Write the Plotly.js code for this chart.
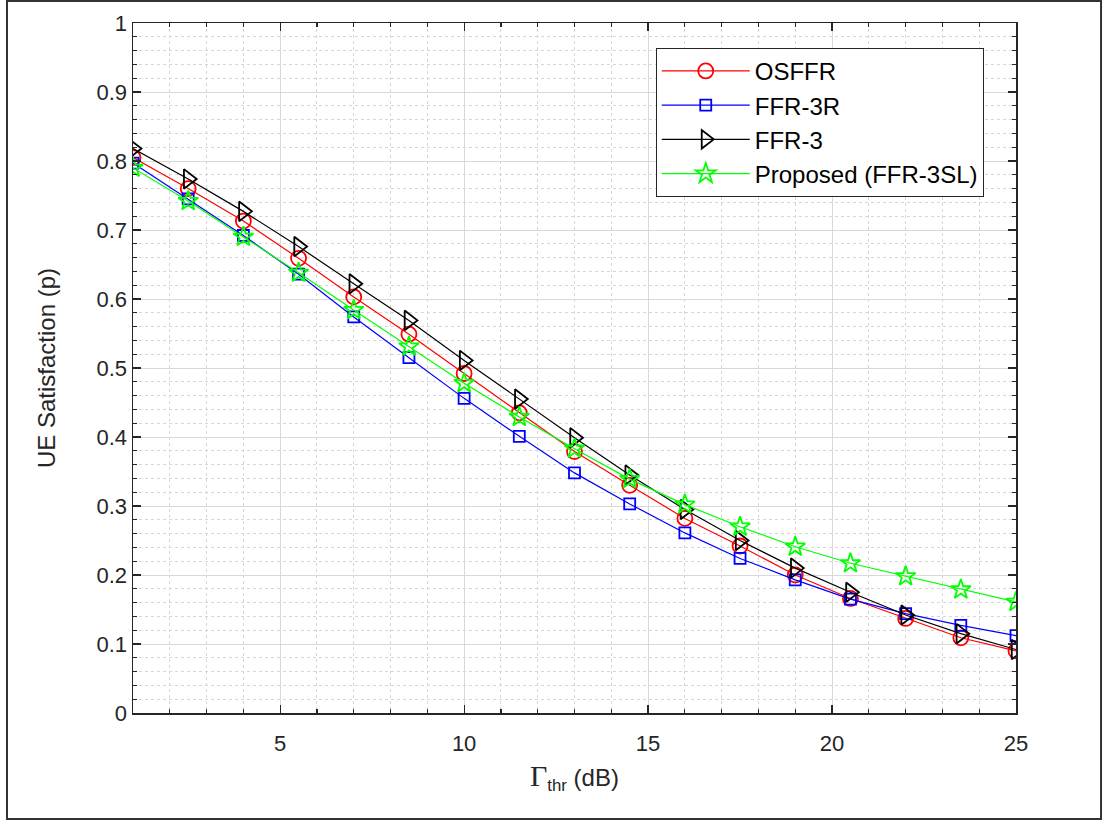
<!DOCTYPE html>
<html>
<head>
<meta charset="utf-8">
<script src="https://cdn.plot.ly/plotly-3.0.1.min.js"></script>
<style>
  html, body { margin: 0; padding: 0; background: #ffffff; }
  #chart { width: 1107px; height: 823px; }
</style>
</head>
<body>
<div id="chart"></div>
<script>
// Gamma threshold (dB)
const gammaThr = [1, 2.5, 4, 5.5, 7, 8.5, 10, 11.5, 13, 14.5, 16, 17.5, 19, 20.5, 22, 23.5, 25];

const osffr    = [0.805, 0.760, 0.713, 0.659, 0.603, 0.549, 0.492, 0.435, 0.379, 0.330, 0.282, 0.242, 0.200, 0.166, 0.137, 0.109, 0.090];
const ffr3r    = [0.797, 0.745, 0.692, 0.636, 0.574, 0.515, 0.456, 0.401, 0.348, 0.303, 0.261, 0.224, 0.193, 0.165, 0.144, 0.127, 0.112];
const ffr3     = [0.818, 0.774, 0.727, 0.676, 0.622, 0.569, 0.511, 0.455, 0.399, 0.345, 0.295, 0.250, 0.210, 0.175, 0.142, 0.115, 0.092];
const proposed = [0.790, 0.742, 0.690, 0.638, 0.584, 0.531, 0.478, 0.429, 0.383, 0.339, 0.302, 0.270, 0.241, 0.217, 0.198, 0.179, 0.161];

const seriesNames = ['OSFFR', 'FFR-3R', 'FFR-3', 'Proposed (FFR-3SL)'];

const xTickVals = [5, 10, 15, 20, 25];
const xTickText = ['5', '10', '15', '20', '25'];
const yTickVals = [0, 0.1, 0.2, 0.3, 0.4, 0.5, 0.6, 0.7, 0.8, 0.9, 1];
const yTickText = ['0', '0.1', '0.2', '0.3', '0.4', '0.5', '0.6', '0.7', '0.8', '0.9', '1'];

function mk(y, name, color, symbol, size, group) {
  return {
    x: gammaThr, y: y, name: name, type: 'scatter', mode: 'lines+markers',
    legendgroup: group,
    line: { color: color, width: 1.2 },
    marker: { symbol: symbol, size: size, color: color, line: { color: color, width: 1.8 } }
  };
}

const traces = [
  mk(osffr, seriesNames[0], '#ff0000', 'circle-open', 15, 'a'),
  mk(ffr3r, seriesNames[1], '#0000ff', 'square-open', 11, 'b'),
  mk(ffr3, seriesNames[2], '#000000', 'triangle-right-open', 17, 'c'),
  mk(proposed, seriesNames[3], '#00ff00', 'star-open', 15, 'd')
];

const axisCommon = {
  showline: true, linecolor: '#262626', linewidth: 1.5, mirror: 'ticks',
  ticks: 'inside', ticklen: 8, tickwidth: 1.2, tickcolor: '#262626',
  showgrid: true, gridcolor: '#d9d9d9', gridwidth: 1,
  zeroline: false,
  tickfont: { family: 'Liberation Sans, Arial, sans-serif', size: 22, color: '#262626' }
};

const layout = {
  width: 1107, height: 823,
  paper_bgcolor: '#ffffff', plot_bgcolor: '#ffffff',
  margin: { l: 133, r: 91, t: 23, b: 110 },
  showlegend: true,
  xaxis: Object.assign({}, axisCommon, {
    range: [1, 25],
    tickmode: 'array', tickvals: xTickVals, ticktext: xTickText,
    ticklabelstandoff: 10,
    minor: { dtick: 1, tick0: 0, showgrid: true, gridcolor: '#d6d6d6', griddash: 'dot', gridwidth: 1,
             ticks: 'inside', ticklen: 4, tickcolor: '#262626' },
    title: {
      text: '<span style="font-family:Liberation Serif, Times New Roman, serif;font-size:30px">Γ</span><sub>thr</sub> (dB)',
      font: { family: 'Liberation Sans, Arial, sans-serif', size: 24, color: '#262626' },
      standoff: 14
    }
  }),
  yaxis: Object.assign({}, axisCommon, {
    range: [0, 1],
    tickmode: 'array', tickvals: yTickVals, ticktext: yTickText,
    minor: { dtick: 0.02, tick0: 0, showgrid: true, gridcolor: '#d6d6d6', griddash: 'dot', gridwidth: 1,
             ticks: 'inside', ticklen: 4, tickcolor: '#262626' },
    title: {
      text: 'UE Satisfaction (p)',
      font: { family: 'Liberation Sans, Arial, sans-serif', size: 24, color: '#262626' },
      standoff: 34
    }
  }),
  legend: {
    x: 0.592, y: 0.964, xanchor: 'left', yanchor: 'top',
    bgcolor: '#ffffff', bordercolor: '#262626', borderwidth: 1,
    font: { family: 'Liberation Sans, Arial, sans-serif', size: 24, color: '#000000' },
    traceorder: 'grouped', tracegroupgap: 0, itemwidth: 88
  },
  shapes: [{
    type: 'rect', xref: 'paper', yref: 'paper',
    x0: -0.1427, x1: 1.0963, y0: -0.1536, y1: 1.0319,
    line: { color: '#333333', width: 2 }, fillcolor: 'rgba(0,0,0,0)', layer: 'above'
  }]
};

Plotly.newPlot('chart', traces, layout, { displayModeBar: false, staticPlot: true });
</script>
</body>
</html>
